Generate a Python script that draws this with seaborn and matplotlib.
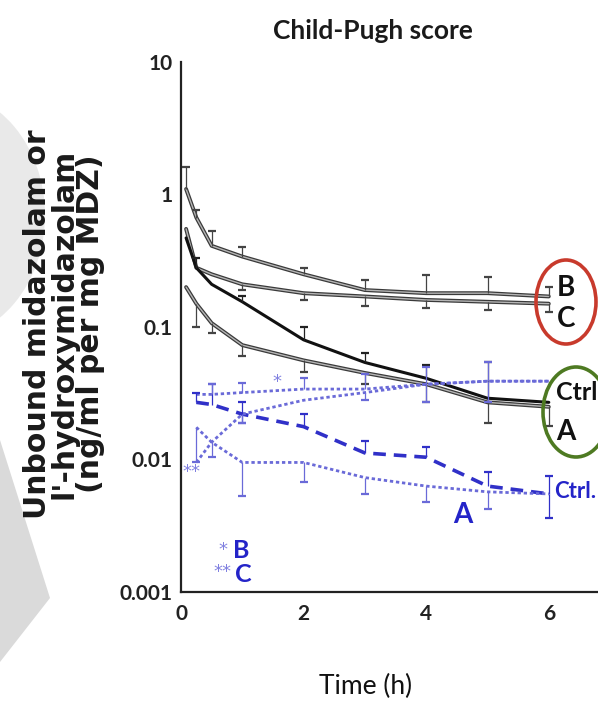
import numpy as np
import pandas as pd
import matplotlib
matplotlib.use("Agg")
import matplotlib.pyplot as plt
from matplotlib.patches import Ellipse, Polygon
import seaborn as sns

# ---- data -------------------------------------------------------------
t_parent = [0.083, 0.25, 0.5, 1, 2, 3, 4, 5, 6]
t_metab = [0.25, 0.5, 1, 2, 3, 4, 5, 6]

# unbound midazolam (black)
mdz_B = [1.1, 0.67, 0.41, 0.34, 0.25, 0.19, 0.18, 0.18, 0.17]
mdz_B_hi = [1.6, 0.77, 0.53, 0.40, 0.28, 0.226, 0.246, 0.24, 0.20]
mdz_C = [0.55, 0.28, 0.25, 0.21, 0.18, 0.17, 0.16, 0.155, 0.15]
mdz_C_lo = [np.nan, np.nan, np.nan, 0.19, 0.16, 0.145, 0.14, 0.135, 0.13]
mdz_Ctrl = [0.47, 0.28, 0.21, 0.155, 0.08, 0.054, 0.041, 0.029, 0.027]
mdz_Ctrl_hi = [np.nan, 0.33, np.nan, 0.17, 0.10, 0.064, 0.052, 0.054, np.nan]
mdz_A = [0.2, 0.15, 0.107, 0.073, 0.056, 0.045, 0.037, 0.027, 0.025]
mdz_A_lo = [np.nan, 0.10, 0.09, 0.06, 0.046, 0.037, 0.027, 0.019, 0.018]

# unbound 1'-hydroxymidazolam (blue)
oh_Ctrl = [0.027, 0.026, 0.022, 0.0177, 0.0112, 0.0104, 0.0063, 0.0055]
oh_Ctrl_hi = [0.032, 0.037, 0.027, 0.022, 0.0137, 0.0125, 0.0081, 0.0075]
oh_Ctrl_lo = [np.nan, np.nan, 0.019, np.nan, np.nan, np.nan, np.nan, 0.0036]
oh_A = [0.0175, 0.0135, 0.0095, 0.0095, 0.0073, 0.0063, 0.0057, 0.0055]
oh_A_lo = [0.0095, np.nan, 0.0053, 0.0068, 0.0055, 0.0048, 0.0042, np.nan]
oh_B = [0.031, 0.031, 0.032, 0.034, 0.034, 0.037, 0.039, 0.039]
oh_B_hi = [np.nan, 0.037, 0.038, 0.041, 0.044, 0.05, 0.054, np.nan]
oh_C = [0.0095, 0.0135, 0.022, 0.028, 0.032, 0.037, 0.039, 0.039]
oh_C_lo = [np.nan, 0.0105, 0.019, np.nan, 0.028, 0.027, 0.027, np.nan]

y_ticks = [0.001, 0.01, 0.1, 1, 10]
y_ticklabels = ["0.001", "0.01", "0.1", "1", "10"]
x_ticks = [0, 2, 4, 6]

# ---- style ------------------------------------------------------------
sns.set_theme(style="white")
humanist = ["Lato", "DejaVu Sans"]
plt.rcParams["font.family"] = humanist

BLUE_TXT = "#2424c8"
BLUE_LINE = "#6a6ad8"
BLUE_DASH = "#3030c8"
STAR = "#8080e0"

fig = plt.figure(figsize=(5.98, 7.08), dpi=100)

# soft grey shapes along the left margin
fig.add_artist(Ellipse((-60 / 598, 1 - 215 / 708), 210 / 598, 250 / 708,
                       transform=fig.transFigure, facecolor="#e9e9e9",
                       edgecolor="none", zorder=0))
fig.add_artist(Polygon([(0, 1 - 440 / 708), (50 / 598, 1 - 598 / 708),
                        (0, 1 - 662 / 708)], closed=True,
                       transform=fig.transFigure, facecolor="#dadada",
                       edgecolor="none", zorder=0))

ax = fig.add_axes([181 / 598, 1 - 592 / 708, 417 / 598, 530 / 708])
ax.set_facecolor("none")


def line(x, y, **kw):
    df = pd.DataFrame({"t": x, "v": y})
    sns.lineplot(data=df, x="t", y="v", ax=ax, estimator=None, sort=False,
                 legend=False, **kw)


def bars(x, y, bound, color, lw=0.9):
    x = np.asarray(x, float)
    y = np.asarray(y, float)
    b = np.asarray(bound, float)
    m = ~np.isnan(b)
    ax.vlines(x[m], y[m], b[m], color=color, lw=lw, zorder=4)
    ax.plot(x[m], b[m], ls="none", marker="_", ms=6, mew=1.6, color=color,
            zorder=4)


# midazolam: outlined grey lines for B, C, A and a solid black line for Ctrl
for vals in (mdz_B, mdz_C, mdz_A):
    line(t_parent, vals, color="#3a3a3a", lw=2.8, zorder=3)
    line(t_parent, vals, color="#b5b5b5", lw=1.0, zorder=3)
line(t_parent, mdz_Ctrl, color="#111111", lw=2.2, zorder=3)

bars(t_parent, mdz_B, mdz_B_hi, "#444444")
bars(t_parent, mdz_C, mdz_C_lo, "#444444")
bars(t_parent, mdz_Ctrl, mdz_Ctrl_hi, "#222222")
bars(t_parent, mdz_A, mdz_A_lo, "#444444")

# 1'-hydroxymidazolam
line(t_metab, oh_Ctrl, color=BLUE_DASH, lw=2.6, linestyle=(0, (3.5, 2.2)),
     zorder=3)
for vals in (oh_A, oh_B, oh_C):
    line(t_metab, vals, color=BLUE_LINE, lw=2.0, linestyle=(0, (1.2, 1.0)),
         zorder=3)

bars(t_metab, oh_Ctrl, oh_Ctrl_hi, BLUE_DASH)
bars(t_metab, oh_Ctrl, oh_Ctrl_lo, BLUE_DASH)
bars(t_metab, oh_A, oh_A_lo, BLUE_LINE)
bars(t_metab, oh_B, oh_B_hi, BLUE_LINE)
bars(t_metab, oh_C, oh_C_lo, BLUE_LINE)

# ---- axes -------------------------------------------------------------
ax.set_yscale("log")
ax.set_ylim(0.001, 10)
ax.set_xlim(0, 417 / 61.3)
ax.set_yticks(y_ticks)
ax.set_yticklabels(y_ticklabels)
ax.yaxis.set_minor_locator(matplotlib.ticker.NullLocator())
ax.set_xticks(x_ticks)
ax.set_xticklabels([str(v) for v in x_ticks])
ax.tick_params(axis="both", direction="in", length=6, width=1.3,
               colors="#222222", labelsize=15, pad=6)
ax.tick_params(axis="x", pad=9)
for lab in ax.get_xticklabels() + ax.get_yticklabels():
    lab.set_fontweight("bold")
    lab.set_family(humanist)
ax.spines["top"].set_visible(False)
ax.spines["right"].set_visible(False)
for s in ("left", "bottom"):
    ax.spines[s].set_color("#222222")
    ax.spines[s].set_linewidth(1.6)

ax.set_xlabel("")
ax.set_ylabel("")
fig.text(366 / 598, 1 - 686 / 708, "Time (h)", ha="center", va="center",
         fontsize=19, family=humanist, color="#111111")
fig.text(373 / 598, 1 - 31 / 708, "Child-Pugh score", ha="center",
         va="center", fontsize=19, fontweight="bold", family=humanist,
         color="#1a1a1a")
fig.text(64 / 598, 1 - 324 / 708,
         "Unbound midazolam or\nl'-hydroxymidazolam\n(ng/ml per mg MDZ)",
         rotation=90, ha="center", va="center", multialignment="center",
         fontsize=21.5, fontweight="bold", family=["DejaVu Sans"],
         linespacing=0.87, color="#1a1a1a")

# ---- group labels -----------------------------------------------------
def px(x, y):
    return x / 598, 1 - y / 708


lab_kw = dict(transform=fig.transFigure, ha="center", va="center",
              family=humanist, fontsize=20, fontweight="bold")
fig.text(*px(566, 288), "B", color="#111111", **lab_kw)
fig.text(*px(566, 319), "C", color="#111111", **lab_kw)
fig.text(556 / 598, 1 - 392 / 708, "Ctrl", color="#111111",
         **dict(lab_kw, ha="left", fontsize=18))
fig.text(*px(566, 432), "A", color="#111111", **lab_kw)
fig.text(554 / 598, 1 - 492 / 708, "Ctrl.", color=BLUE_TXT,
         **dict(lab_kw, ha="left", fontsize=16))
fig.text(*px(463, 515), "A", color=BLUE_TXT, **lab_kw)
fig.text(*px(241, 551), "B", color=BLUE_TXT, **dict(lab_kw, fontsize=18))
fig.text(*px(243, 574), "C", color=BLUE_TXT, **dict(lab_kw, fontsize=18))

star_kw = dict(transform=fig.transFigure, ha="center", va="center",
               family=["DejaVu Sans"], fontsize=13, color=STAR)
fig.text(*px(223, 550), "*", **star_kw)
fig.text(*px(222, 572), "**", **star_kw)
fig.text(*px(277, 382), "*", **star_kw)
fig.text(*px(191, 472), "**", **star_kw)

fig.add_artist(Ellipse(px(566, 302), 60 / 598, 84 / 708,
                       transform=fig.transFigure, facecolor="none",
                       edgecolor="#c83a2c", lw=2.6, zorder=5))
fig.add_artist(Ellipse(px(576, 412), 66 / 598, 90 / 708,
                       transform=fig.transFigure, facecolor="none",
                       edgecolor="#4e7a22", lw=2.6, zorder=5))

fig.savefig("out.png", dpi=100)
